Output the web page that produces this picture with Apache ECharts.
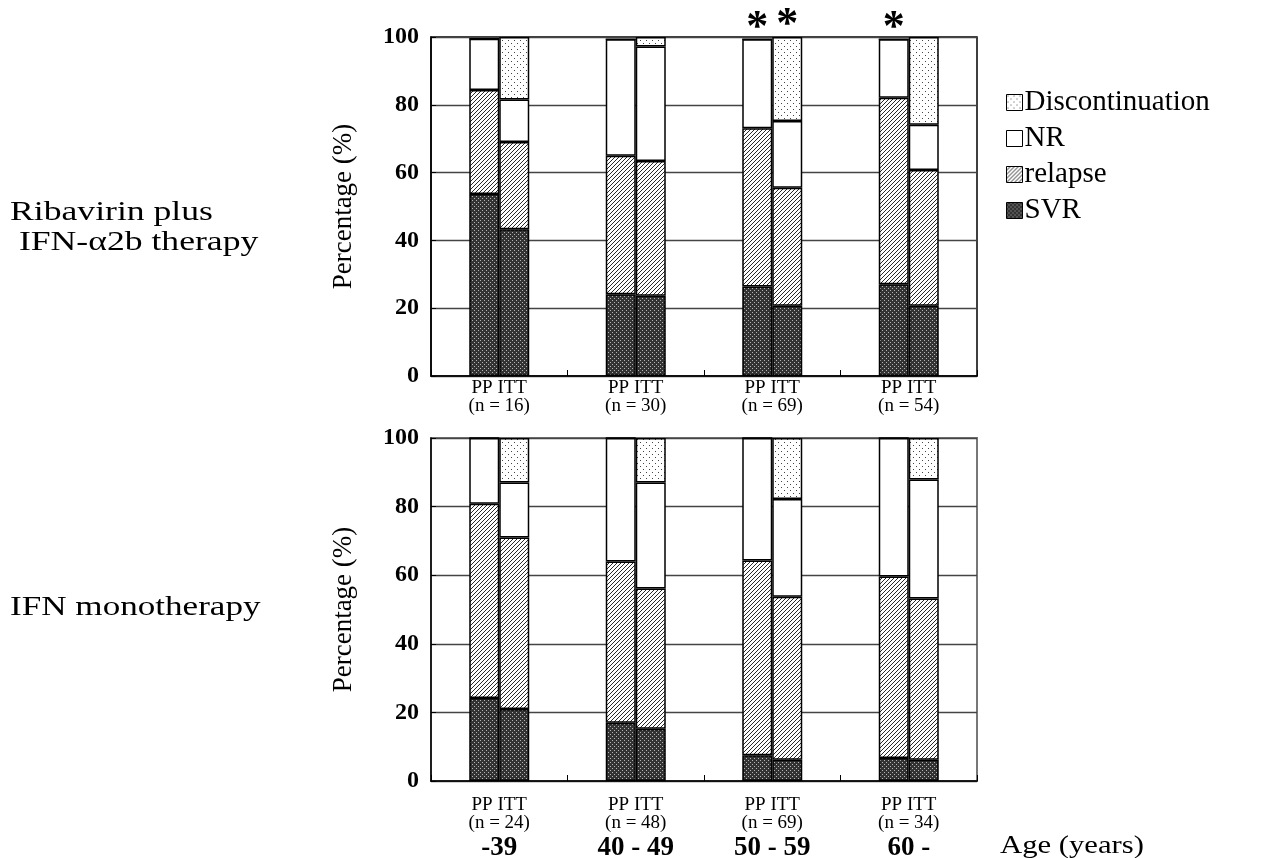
<!DOCTYPE html>
<html><head><meta charset="utf-8">
<script src="https://cdn.jsdelivr.net/npm/echarts@6/dist/echarts.min.js"></script>
<style>html,body{margin:0;padding:0;background:#fff}#c{width:1262px;height:858px}</style>
</head><body><div id="c"></div>
<script>
// ---- data ----
const ageGroups = ['-39', '40 - 49', '50 - 59', '60 -'];
const nRiba = [16, 30, 69, 54];
const nIfn = [24, 48, 69, 34];
const legendNames = ['Discontinuation', 'NR', 'relapse', 'SVR'];
const yTicks = [0, 20, 40, 60, 80, 100];
const panelLabels = [['Ribavirin plus', ' IFN-\u03b12b therapy'], ['IFN monotherapy']];
const xAxisTitle = 'Age (years)';

// Ribavirin plus IFN-a2b (segment heights, %)
const ribaPP_SVR = [53.7, 24.1, 26.4, 27.1];
const ribaPP_relapse = [30.7, 40.9, 46.7, 55.0];
const ribaPP_NR = [15.1, 34.3, 26.2, 17.2];
const ribaPP_Disc = [0, 0, 0, 0];
const ribaITT_SVR = [43.3, 23.7, 20.7, 20.7];
const ribaITT_relapse = [25.7, 39.7, 34.8, 40.1];
const ribaITT_NR = [12.6, 33.8, 19.7, 13.3];
const ribaITT_Disc = [18.4, 2.8, 24.8, 25.9];
const ribaSigPP = [false, false, true, true];
const ribaSigITT = [false, false, true, false];

// IFN monotherapy
const ifnPP_SVR = [24.2, 17.0, 7.5, 6.7];
const ifnPP_relapse = [56.6, 47.0, 56.8, 52.9];
const ifnPP_NR = [19.2, 36.0, 35.7, 40.4];
const ifnPP_Disc = [0, 0, 0, 0];
const ifnITT_SVR = [21.0, 15.2, 6.2, 6.2];
const ifnITT_relapse = [50.0, 40.9, 47.5, 47.0];
const ifnITT_NR = [16.0, 30.9, 28.5, 34.7];
const ifnITT_Disc = [13.0, 13.0, 17.8, 12.1];

// ---- patterns ----
function makePattern(size, bg, dots, dotColor) {
  const c = document.createElement('canvas');
  c.width = size; c.height = size;
  const g = c.getContext('2d');
  g.fillStyle = bg; g.fillRect(0, 0, size, size);
  g.fillStyle = dotColor;
  dots.forEach(([x, y]) => g.fillRect(x, y, 1, 1));
  return { image: c, repeat: 'repeat' };
}
const patSVR = makePattern(4, '#333333', [[0, 0], [2, 2]], '#b5b5b5');
const hatchDots = []; for (let i = 0; i < 4; i++) hatchDots.push([i, 3 - i]);
const patRelapse = makePattern(4, '#ffffff', hatchDots, '#2a2a2a');
const patDisc = makePattern(6, '#ffffff', [[1, 1], [4, 4]], '#444444');
const styles = {
  SVR: patSVR, relapse: patRelapse, NR: '#ffffff', Discontinuation: patDisc
};

const FONT = 'Liberation Serif';

function barSeries(name, vals, stack, gi, sig) {
  return {
    type: 'bar', name: name, stack: stack + gi, xAxisIndex: gi, yAxisIndex: gi,
    barWidth: 30, barGap: '0%',
    itemStyle: { color: styles[name], borderColor: '#000', borderWidth: 1.5 },
    emphasis: { disabled: true },
    data: vals.map((v, i) => (sig && sig[i]) ? {
      value: v,
      label: { show: true, position: 'top', formatter: '*', fontSize: 44, fontWeight: 'bold',
               fontFamily: FONT, color: '#000', distance: -11 }
    } : v)
  };
}

const series = [];
[[ribaPP_SVR, ribaPP_relapse, ribaPP_NR, ribaPP_Disc, ribaSigPP, ribaITT_SVR, ribaITT_relapse, ribaITT_NR, ribaITT_Disc, ribaSigITT],
 [ifnPP_SVR, ifnPP_relapse, ifnPP_NR, ifnPP_Disc, null, ifnITT_SVR, ifnITT_relapse, ifnITT_NR, ifnITT_Disc, null]]
.forEach((d, gi) => {
  series.push(barSeries('SVR', d[0], 'pp', gi));
  series.push(barSeries('relapse', d[1], 'pp', gi));
  series.push(barSeries('NR', d[2], 'pp', gi, d[4]));
  series.push(barSeries('Discontinuation', d[3], 'pp', gi));
  series.push(barSeries('SVR', d[5], 'itt', gi));
  series.push(barSeries('relapse', d[6], 'itt', gi));
  series.push(barSeries('NR', d[7], 'itt', gi));
  series.push(barSeries('Discontinuation', d[8], 'itt', gi, d[9]));
});

function yAxis(gi) {
  return {
    type: 'value', gridIndex: gi, min: yTicks[0], max: yTicks[yTicks.length - 1], interval: 20,
    name: 'Percentage (%)', nameLocation: 'middle', nameRotate: 90, nameGap: 74,
    nameTextStyle: { fontFamily: FONT, fontSize: 27, color: '#000' },
    axisLine: { show: true, lineStyle: { color: '#000', width: 1.5 } },
    axisTick: { show: true, inside: true, length: 5, lineStyle: { color: '#000' } },
    axisLabel: { fontFamily: FONT, fontSize: 24, fontWeight: 'bold', color: '#000', margin: 12 },
    splitLine: { show: true, lineStyle: { color: '#444', width: 1.3 } }
  };
}
function xAxis(gi, ns, withAge) {
  return {
    type: 'category', gridIndex: gi, data: ageGroups,
    axisLine: { show: true, lineStyle: { color: '#000', width: 1.5 } },
    axisTick: { show: true, inside: true, length: 6, lineStyle: { color: '#000' } },
    axisLabel: {
      margin: withAge ? 15 : 3, color: '#000', fontFamily: FONT,
      formatter: (v, i) => '{a|PP ITT}\n{b|(n = ' + ns[i] + ')}' + (withAge ? '\n{c|' + v + '}' : ''),
      rich: {
        a: { fontFamily: FONT, fontSize: 19, lineHeight: 18, color: '#000' },
        b: { fontFamily: FONT, fontSize: 19, lineHeight: 18, color: '#000' },
        c: { fontFamily: FONT, fontSize: 27, fontWeight: 'bold', lineHeight: 28, color: '#000', padding: [5, 0, 0, 0] }
      }
    }
  };
}

function stretchedText(str, x, y, size, sx) {
  return { type: 'text', x: x, y: y, scaleX: sx, silent: true,
    style: { text: str, font: size + 'px "' + FONT + '"', fill: '#000', verticalAlign: 'middle' } };
}

const chart = echarts.init(document.getElementById('c'));
chart.setOption({
  animation: false,
  backgroundColor: '#fff',
  graphic: [
    stretchedText(panelLabels[0][0], 10, 213, 27, 1.32),
    stretchedText(panelLabels[0][1], 10, 243, 27, 1.32),
    stretchedText(panelLabels[1][0], 10, 608, 27, 1.3),
    stretchedText(xAxisTitle, 1000, 846, 26, 1.18)
  ],
  legend: {
    orient: 'vertical', left: 1001, top: 83, data: legendNames,
    itemWidth: 16, itemHeight: 16, itemGap: 7, icon: 'rect',
    selectedMode: false,
    itemStyle: { borderColor: '#000', borderWidth: 1 },
    textStyle: { fontFamily: FONT, fontSize: 29, color: '#000', padding: [0, 0, 0, -3] }
  },
  grid: [
    { left: 431, right: 285, top: 37, height: 339, show: true, borderColor: '#000', borderWidth: 1.5,
      outerBoundsMode: 'none', containLabel: false },
    { left: 431, right: 285, top: 438, height: 343, show: true, borderColor: '#777', borderWidth: 2,
      outerBoundsMode: 'none', containLabel: false }
  ],
  xAxis: [xAxis(0, nRiba, false), xAxis(1, nIfn, true)],
  yAxis: [yAxis(0), yAxis(1)],
  series: series
});
</script></body></html>
